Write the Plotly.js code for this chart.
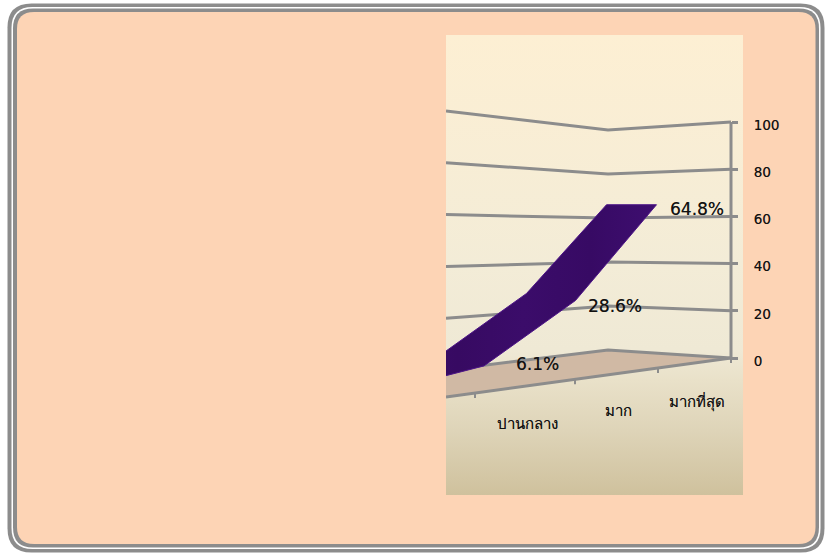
<!DOCTYPE html>
<html><head><meta charset="utf-8">
<script src="https://cdn.plot.ly/plotly-3.0.1.min.js"></script>
<style>html,body{margin:0;padding:0;background:#fff}#c{width:831px;height:556px}</style>
</head><body><div id="c"></div>
<script>
// ---- data ----
const categories = ["น้อย", "ปานกลาง", "มาก", "มากที่สุด"];
const values = [0.5, 6.1, 28.6, 64.8];
const valueLabels = ["", "6.1%", "28.6%", "64.8%"];
const gridValues = [0, 20, 40, 60, 80, 100];

// ---- 3-D look geometry (screen projection) ----
const W = 831, H = 556;
const wallLeft = {x: 446, y0: 370, k: 2.59}, wallBack = {x: 608, y0: 350, k: 2.2}, wallRight = {x: 731, y0: 358, k: 2.36};
const catBounds = [355, 475, 575, 658, 731];
const frontY = x => 358 + (731 - x) * 0.137;
const backDy = [-13, -13, -13, -6];
const nearDx = [-41, -41, -41, -38];
const farDx = [-90, -90, -90, -88];
const K = 2.35;
const labelShift = [[0, 0], [53, -2], [39, 6], [40, 4]];
const catLabelDrop = [0, 38, 37, 38];
const boldText = '0.15px 0 0 rgba(17,17,17,0.6)';

const front = i => { const x = (catBounds[i] + catBounds[i + 1]) / 2; return [x, frontY(x)]; };
const lower = i => { const f = front(i); return [f[0] + nearDx[i], f[1] - 6 - K * values[i]]; };
const upper = i => { const f = front(i); return [f[0] + farDx[i], f[1] + backDy[i] - K * values[i]]; };

// ---- traces ----
const traces = [];
traces.push({x: [446, 743, 743, 446, 446], y: [35, 35, 495, 495, 35], mode: 'lines', fill: 'toself',
  line: {width: 0}, hoverinfo: 'skip', showlegend: false,
  fillgradient: {type: 'vertical', colorscale: [[0, '#CFC19D'], [0.14, '#DED4B8'], [0.25, '#E9E1C9'], [0.315, '#EFE9D5'], [0.5, '#F3ECD7'], [1, '#FDEFD3']]}});
traces.push({x: [wallLeft.x, wallBack.x, wallRight.x, wallLeft.x, wallLeft.x],
  y: [wallLeft.y0, wallBack.y0, wallRight.y0, frontY(446), wallLeft.y0], mode: 'lines', fill: 'toself',
  fillcolor: '#D0B9A4', line: {width: 0}, hoverinfo: 'skip', showlegend: false});
gridValues.forEach(v => traces.push({
  x: [wallLeft.x, wallBack.x, wallRight.x],
  y: [wallLeft.y0 - wallLeft.k * v, wallBack.y0 - wallBack.k * v, wallRight.y0 - wallRight.k * v],
  mode: 'lines', line: {color: '#8C8C8C', width: 3}, hoverinfo: 'skip', showlegend: false}));
// floor front edge and its ticks
const edgeX = [], edgeY = [];
catBounds.forEach(x => { edgeX.push(x, x, null); edgeY.push(frontY(x), frontY(x) + 5, null); });
traces.push({x: edgeX, y: edgeY, mode: 'lines', line: {color: '#8C8C8C', width: 2}, hoverinfo: 'skip', showlegend: false});
traces.push({x: [446, 731], y: [frontY(446), frontY(731)], mode: 'lines', line: {color: '#8C8C8C', width: 3}, hoverinfo: 'skip', showlegend: false});
// ribbon
const lo = values.map((_, i) => lower(i)), up = values.map((_, i) => upper(i));
const poly = lo.concat(up.slice().reverse(), [lo[0]]);
traces.push({x: poly.map(p => p[0]), y: poly.map(p => p[1]), mode: 'lines', fill: 'toself',
  line: {color: '#4E1688', width: 1}, hoverinfo: 'skip', showlegend: false,
  fillgradient: {type: 'horizontal', colorscale: [[0, '#370A62'], [0.2, '#3B0C6A'], [0.4, '#370A62'], [0.6, '#3B0C6A'], [0.8, '#370A64'], [1, '#3E0E70']]}});
// value axis carrier
traces.push({x: [731, 731], y: [0, 100], yaxis: 'y2', mode: 'lines', line: {color: '#8C8C8C', width: 3}, hoverinfo: 'skip', showlegend: false});

// ---- labels ----
const annotations = [];
categories.forEach((c, i) => {
  const f = front(i);
  if (f[0] < 446) return;
  annotations.push({x: f[0] + 2, y: f[1] + catLabelDrop[i], text: c, showarrow: false, xref: 'x', yref: 'y',
    font: {family: 'DejaVu Sans, Noto Sans, sans-serif', size: 15, color: '#111', shadow: boldText}});
  annotations.push({x: lo[i][0] + labelShift[i][0], y: lo[i][1] + labelShift[i][1], text: valueLabels[i], showarrow: false, xref: 'x', yref: 'y',
    font: {family: 'DejaVu Sans', size: 17, color: '#111', shadow: boldText}});
});

// ---- frame ----
const rr = (x0, y0, x1, y1, r, fill) => {
  const X = v => v / W, Y = v => 1 - v / H;
  return {type: 'path', xref: 'paper', yref: 'paper', layer: 'below', fillcolor: fill, line: {width: 0},
    path: `M ${X(x0 + r)} ${Y(y0)} L ${X(x1 - r)} ${Y(y0)} Q ${X(x1)} ${Y(y0)} ${X(x1)} ${Y(y0 + r)} L ${X(x1)} ${Y(y1 - r)} Q ${X(x1)} ${Y(y1)} ${X(x1 - r)} ${Y(y1)} L ${X(x0 + r)} ${Y(y1)} Q ${X(x0)} ${Y(y1)} ${X(x0)} ${Y(y1 - r)} L ${X(x0)} ${Y(y0 + r)} Q ${X(x0)} ${Y(y0)} ${X(x0 + r)} ${Y(y0)} Z`};
};
const shapes = [
  rr(7.5, 3.5, 824.5, 552.5, 24, '#8C8C8C'),
  rr(11.5, 7, 820.5, 549, 21, '#FFFFFF'),
  rr(13, 8.5, 819, 547.5, 20, '#8C8C8C'),
  rr(17, 12, 815.5, 544, 17, '#FDD4B5')
];

const layout = {
  width: W, height: H, margin: {l: 0, r: 0, t: 0, b: 0}, paper_bgcolor: '#FFFFFF', plot_bgcolor: 'rgba(0,0,0,0)',
  showlegend: false, shapes, annotations,
  xaxis: {domain: [446 / W, 743 / W], range: [446, 743], visible: false, fixedrange: true},
  yaxis: {domain: [1 - 495 / H, 1 - 35 / H], range: [495, 35], visible: false, fixedrange: true},
  yaxis2: {domain: [1 - 358 / H, 1 - 122 / H], range: [0, 100], anchor: 'free', position: 731 / W, side: 'right',
    tickvals: gridValues, ticks: 'outside', ticklen: 6, tickwidth: 3, tickcolor: '#8C8C8C', showline: false, showgrid: false, zeroline: false,
    ticklabelstandoff: 13, ticklabelshift: 3, tickfont: {family: 'DejaVu Sans', size: 13.5, color: '#111', shadow: boldText}, fixedrange: true}
};
Plotly.newPlot('c', traces, layout, {displayModeBar: false, staticPlot: true});
</script></body></html>
